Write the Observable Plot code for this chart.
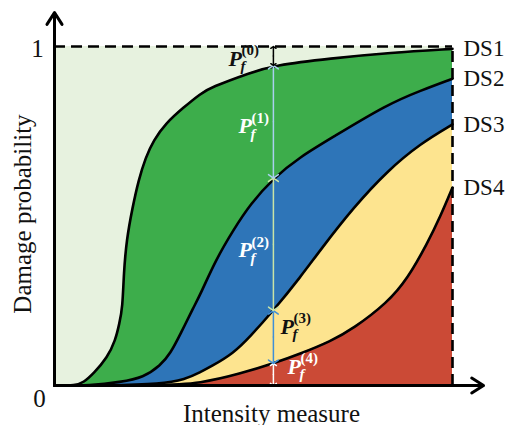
<!DOCTYPE html>
<html>
<head>
<meta charset="utf-8">
<script src="https://cdn.jsdelivr.net/npm/d3@7"></script>
<script src="https://cdn.jsdelivr.net/npm/@observablehq/plot@0.6"></script>
<style>
  html, body { margin: 0; padding: 0; background: #fff; }
</style>
</head>
<body>
<div id="chart"></div>
<script>
// ---- Data (intensity measure in arbitrary units 0..100, damage probability 0..1) ----
const ds1IM = [0, 5.3, 7.3, 9.8, 13.3, 15.3, 16.3, 17.1, 17.4, 18.1, 19.6, 21.1, 22.9, 24.9, 27.9, 32.4, 36.7, 39.2, 49.2, 55, 69.3, 84.4, 100];
const ds1P  = [0, 0, 0.009, 0.035, 0.083, 0.133, 0.183, 0.23, 0.33, 0.43, 0.525, 0.605, 0.673, 0.723, 0.773, 0.82, 0.861, 0.879, 0.923, 0.944, 0.965, 0.982, 0.993];

const ds2IM = [0, 9, 16.6, 22.4, 26.6, 29.1, 31.7, 34.9, 36.7, 40.5, 45, 49.2, 55, 61.8, 69.3, 83.7, 92, 100];
const ds2P  = [0, 0, 0.01, 0.024, 0.059, 0.094, 0.153, 0.23, 0.27, 0.37, 0.46, 0.535, 0.612, 0.675, 0.728, 0.83, 0.87, 0.905];

const ds3IM = [0, 14.1, 26.6, 32.9, 36.7, 39.2, 45, 49.2, 55, 61.8, 66.8, 75.1, 83.7, 92, 100];
const ds3P  = [0, 0, 0.004, 0.018, 0.04, 0.055, 0.095, 0.145, 0.221, 0.32, 0.40, 0.525, 0.634, 0.714, 0.77];

const ds4IM = [0, 26.6, 36.7, 46.7, 55, 61.8, 69.3, 75.1, 83.7, 88.7, 93.7, 97, 100];
const ds4P  = [0, 0, 0.006, 0.035, 0.065, 0.094, 0.13, 0.168, 0.245, 0.315, 0.42, 0.50, 0.584];

const stateNames = ["DS1", "DS2", "DS3", "DS4"];
const yTickValues = [0, 1];
const yTickLabels = ["0", "1"];
const xLabel = "Intensity measure";
const yLabel = "Damage probability";
const annotIM = 55; // intensity where the P_f arrows are drawn

// ---- Styles ----
const bandColors = ["#3dad4b", "#2e75b8", "#fde48f", "#cb4a36"];
const bgColor = "#e7f2df";
const arrowColors = ["#000000", "#a9d0ee", "#c9e4a6", "#3f8fd6", "#ffffff"];
const labelColors = ["#111111", "#ffffff", "#ffffff", "#111111", "#ffffff"];
// label offsets relative to (annotIM, band midpoint) in px
const labelLayout = [
  {dx: -45, dy: 3},
  {dx: -35, dy: 4.5},
  {dx: -35, dy: 6},
  {dx: 7, dy: -10},
  {dx: 14, dy: -7.5}
];
const serif = "'Liberation Serif', 'Times New Roman', serif";
const curveType = "basis";

const curves = [
  ds1IM.map((x, i) => ({x, y: ds1P[i]})),
  ds2IM.map((x, i) => ({x, y: ds2P[i]})),
  ds3IM.map((x, i) => ({x, y: ds3P[i]})),
  ds4IM.map((x, i) => ({x, y: ds4P[i]}))
];
const xMax = d3.max(ds1IM);
const yMax = 1;
const atIM = (c) => c.find(d => d.x === annotIM).y;
const levels = [yMax, ...curves.map(atIM), 0];
const segs = levels.slice(0, -1).map((top, k) => ({
  k, x: annotIM, top, bottom: levels[k + 1], mid: (top + levels[k + 1]) / 2, color: arrowColors[k]
}));
const ends = curves.map((c, k) => ({name: stateNames[k], x: xMax, y: c[c.length - 1].y}));

const marks = [];
// background (no damage region)
marks.push(Plot.areaY([{x: 0}, {x: xMax}], {x: "x", y1: 0, y2: yMax, fill: bgColor}));
// damage state bands, painted from DS1 down
curves.forEach((c, k) => {
  marks.push(Plot.areaY(c, {x: "x", y1: 0, y2: "y", fill: bandColors[k], curve: curveType}));
});
curves.forEach((c) => {
  marks.push(Plot.line(c, {x: "x", y: "y", stroke: "black", strokeWidth: 2.6, curve: curveType}));
});
// dashed bounds
marks.push(Plot.ruleY([yMax], {x1: 0, x2: xMax, stroke: "black", strokeWidth: 2.6, strokeDasharray: "11,6"}));
marks.push(Plot.ruleX([xMax], {y1: 0, y2: yMax, stroke: "black", strokeWidth: 2.6, strokeDasharray: "11,6"}));
// P_f double arrows (two half arrows from the band midpoint)
marks.push(Plot.arrow(segs, {x1: "x", x2: "x", y1: "mid", y2: "top", stroke: "color", strokeWidth: 1.5, headLength: 6, headAngle: 110}));
marks.push(Plot.arrow(segs, {x1: "x", x2: "x", y1: "mid", y2: "bottom", stroke: "color", strokeWidth: 1.5, headLength: 6, headAngle: 110}));
// axes with arrowheads
marks.push(Plot.arrow([0], {x1: () => 0, y1: () => 0, x2: () => xMax * 1.078, y2: () => 0, stroke: "black", strokeWidth: 3, headLength: 7, headAngle: 65}));
marks.push(Plot.arrow([0], {x1: () => 0, y1: () => 0, x2: () => 0, y2: () => yMax * 1.1, stroke: "black", strokeWidth: 3, headLength: 7, headAngle: 65}));
// tick labels
marks.push(Plot.text([0], {x: () => 0, y: () => yTickValues[1], text: () => yTickLabels[1], dx: -17, dy: 2, fontSize: 25, fontFamily: serif, fill: "#111"}));
marks.push(Plot.text([0], {x: () => 0, y: () => yTickValues[0], text: () => yTickLabels[0], dx: -15, dy: 13, fontSize: 25, fontFamily: serif, fill: "#111"}));
// axis titles
marks.push(Plot.text([xLabel], {text: d => d, frameAnchor: "bottom", textAnchor: "middle", lineAnchor: "middle", dx: 18, dy: 28, fontSize: 25, fontFamily: serif, fill: "#111"}));
marks.push(Plot.text([yLabel], {text: d => d, frameAnchor: "left", textAnchor: "middle", lineAnchor: "middle", rotate: -90, dx: -32, dy: -2, fontSize: 25, fontFamily: serif, fill: "#111"}));
// DS labels
marks.push(Plot.text(ends, {x: "x", y: "y", text: "name", dx: 11, textAnchor: "start", fontSize: 23, fontFamily: serif, fill: "#111"}));
// P_f labels
segs.forEach((s, k) => {
  const L = labelLayout[k];
  const common = {x: "x", y: "mid", textAnchor: "start", fontFamily: serif, fill: labelColors[k], fontWeight: "bold"};
  marks.push(Plot.text([s], {...common, text: () => "P", dx: L.dx, dy: L.dy, fontSize: 22, fontStyle: "italic"}));
  marks.push(Plot.text([s], {...common, text: () => "f", dx: L.dx + 12, dy: L.dy + 7.5, fontSize: 15, fontStyle: "italic"}));
  marks.push(Plot.text([s], {...common, text: () => `(${k})`, dx: L.dx + 13, dy: L.dy - 8.5, fontSize: 15}));
});

const chart = Plot.plot({
  width: 508,
  height: 425,
  marginLeft: 54,
  marginRight: 56,
  marginTop: 46,
  marginBottom: 40,
  x: {domain: [0, xMax], axis: null},
  y: {domain: [0, yMax], axis: null},
  style: {background: "white", fontFamily: serif},
  marks
});
document.getElementById("chart").append(chart);
</script>
</body>
</html>
